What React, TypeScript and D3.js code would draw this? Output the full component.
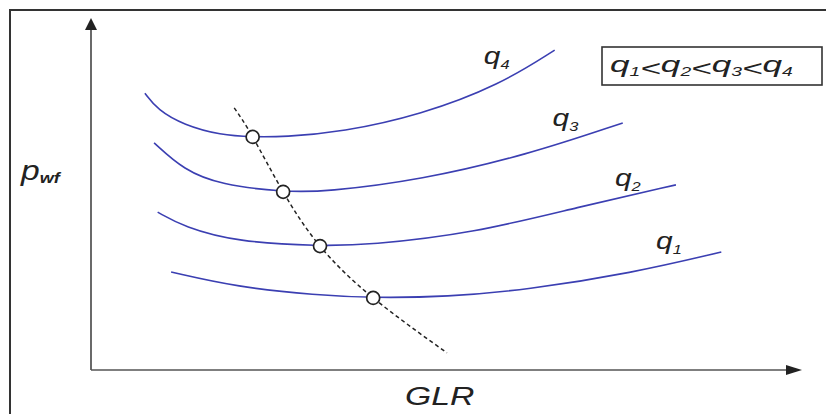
import React from "react";
import * as d3 from "d3";

// GLR (0-100) vs p_wf (0-100), schematic units
const q1Curve: [number, number][] = [
  [11.3, 28.0], [20.6, 23.7], [31.7, 21.4], [39.8, 20.6], [50.2, 20.9], [61.4, 22.9], [76.3, 27.7], [88.9, 33.7],
];
const q2Curve: [number, number][] = [
  [9.4, 45.1], [13.1, 40.9], [20.6, 36.6], [32.3, 35.4], [39.1, 35.7], [54.0, 39.1], [68.8, 46.6], [82.5, 52.9],
];
const q3Curve: [number, number][] = [
  [8.9, 64.9], [13.1, 57.1], [18.3, 52.9], [27.1, 50.9], [33.1, 50.9], [46.5, 54.3], [61.4, 61.4], [75.0, 70.6],
];
const q4Curve: [number, number][] = [
  [7.6, 79.1], [9.4, 74.3], [13.1, 70.0], [18.3, 67.1], [22.8, 66.6], [27.2, 66.6], [35.4, 68.0], [46.5, 72.9],
  [57.7, 81.5], [65.4, 91.4],
];
const optimumLine: [number, number][] = [
  [20.2, 74.9], [22.8, 66.6], [27.1, 50.9], [32.3, 35.4], [39.8, 20.6], [50.2, 4.9],
];
const optimumPoints: [number, number][] = [
  [22.8, 66.6], [27.1, 50.9], [32.3, 35.4], [39.8, 20.6],
];
const curveNames = ["1", "2", "3", "4"];
const labelAt: [number, number][] = [
  [79.7, 34.6], [73.9, 52.6], [65.1, 69.7], [55.4, 87.4],
];

const W = 826;
const H = 414;
const x = d3.scaleLinear().domain([0, 100]).range([91, 800]);
const y = d3.scaleLinear().domain([0, 100]).range([370, 20]);

const smooth = d3
  .line<[number, number]>()
  .x((d) => x(d[0]))
  .y((d) => y(d[1]))
  .curve(d3.curveBasis);

const dashed = d3
  .line<[number, number]>()
  .x((d) => x(d[0]))
  .y((d) => y(d[1]))
  .curve(d3.curveNatural);

const font = "'Liberation Sans', Arial, sans-serif";
const ink = "#222";
const blue = "#3b3fb2";

function QLabel({ n, tx, ty, size, sx }: { n: string; tx: number; ty: number; size: number; sx: number }) {
  return (
    <text
      transform={`translate(${tx},${ty}) scale(${sx},1)`}
      fontFamily={font}
      fontStyle="italic"
      fontSize={size}
      fill={ink}
    >
      q<tspan fontSize={size * 0.55} dy={size * 0.2}>{n}</tspan>
    </text>
  );
}

export default function App() {
  const curves = [q1Curve, q2Curve, q3Curve, q4Curve];
  return (
    <svg width={W} height={H} style={{ position: "absolute", left: 0, top: 0, background: "#fff" }}>
      <rect x={10} y={10} width={900} height={500} fill="none" stroke="#333" strokeWidth={2} />

      {/* axes */}
      <line x1={x(0)} y1={y(0)} x2={x(0)} y2={28} stroke="#444" strokeWidth={1.6} />
      <path d={`M${x(0)},18 L${x(0) - 6},30 L${x(0) + 6},30 Z`} fill="#222" />
      <line x1={x(0)} y1={y(0)} x2={790} y2={y(0)} stroke="#555" strokeWidth={1.6} />
      <path d={`M802,${y(0)} L786,${y(0) - 5} L786,${y(0) + 5} Z`} fill="#222" />

      {curves.map((c, i) => (
        <path key={i} d={smooth(c) ?? ""} fill="none" stroke={blue} strokeWidth={1.6} />
      ))}

      <path d={dashed(optimumLine) ?? ""} fill="none" stroke="#222" strokeWidth={1.5} strokeDasharray="4,3" />
      {optimumPoints.map((p, i) => (
        <circle key={i} cx={x(p[0])} cy={y(p[1])} r={6.5} fill="#fff" stroke="#222" strokeWidth={1.7} />
      ))}

      {curveNames.map((n, i) => (
        <QLabel key={n} n={n} tx={x(labelAt[i][0])} ty={y(labelAt[i][1])} size={23} sx={1.3} />
      ))}

      {/* legend */}
      <rect x={602} y={47} width={220} height={38} fill="#fff" stroke="#333" strokeWidth={1.6} />
      <text
        transform="translate(610,72) scale(1.6,1)"
        fontFamily={font}
        fontStyle="italic"
        fontSize={22}
        fill={ink}
      >
        {curveNames.map((n, i) => (
          <React.Fragment key={n}>
            <tspan dy={i === 0 ? 0 : -4}>q</tspan>
            <tspan fontSize={12} dy={4}>{n}</tspan>
            {i < curveNames.length - 1 ? <tspan dy={0}>&lt;</tspan> : null}
          </React.Fragment>
        ))}
      </text>

      {/* axis titles */}
      <text transform="translate(21,180) scale(1.2,1)" fontFamily={font} fontStyle="italic" fontSize={28} fill={ink}>
        p<tspan fontSize={15} dy={3} fontWeight="bold">wf</tspan>
      </text>
      <text transform="translate(405,405) scale(1.35,1)" fontFamily={font} fontStyle="italic" fontSize={25} fill={ink}>
        GLR
      </text>
    </svg>
  );
}
